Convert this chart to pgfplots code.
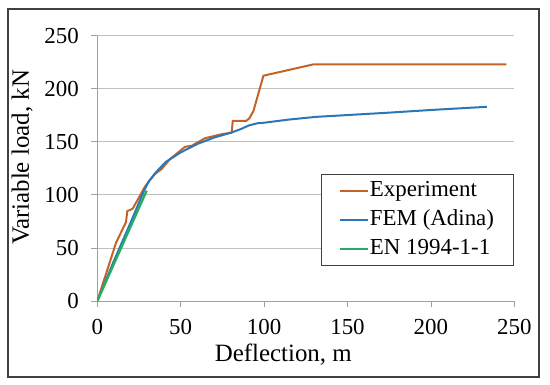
\documentclass[border=0pt]{standalone}
\usepackage{fontspec}
\setmainfont{Liberation Serif}
\usepackage{pgfplots}
\pgfplotsset{compat=1.18}
\definecolor{cExp}{RGB}{196,98,40}
\definecolor{cFem}{RGB}{42,118,184}
\definecolor{cEn}{RGB}{40,172,100}
\definecolor{cGrid}{RGB}{192,192,192}
\definecolor{cAxis}{RGB}{160,160,160}
\definecolor{cFrame}{RGB}{64,64,64}
\begin{document}
\begin{tikzpicture}
\begin{axis}[
  at={(0,0)}, anchor=south west,
  scale only axis, width=417bp, height=265.3bp,
  xmin=0, xmax=250, ymin=0, ymax=250,
  xtick={0,50,...,250}, ytick={0,50,...,250},
  axis x line*=bottom, axis y line*=left,
  axis line style={draw=cAxis, line width=0.8bp, -},
  ymajorgrids, grid style={draw=cGrid, line width=0.8bp},
  tick align=outside, major tick length=6bp,
  tick style={draw=cAxis, line width=0.8bp},
  /pgf/number format/assume math mode=true,
  ticklabel style={font=\fontsize{23}{27}\selectfont},
  xticklabel style={yshift=-9bp},
  yticklabel style={xshift=-9bp},
  xlabel={Deflection, m}, ylabel={Variable load, kN},
  xlabel style={font=\fontsize{25}{30}\selectfont, at={(axis description cs:0.446,0)}, anchor=base, yshift=-60.7bp},
  ylabel style={font=\fontsize{25}{30}\selectfont, at={(axis description cs:-0.18,0.541)}, anchor=center, rotate=0},
  legend style={at={(rel axis cs:0.998,0.479)}, anchor=north east, draw=cFrame, line width=0.8bp,
    font=\fontsize{23}{27}\selectfont, inner xsep=18bp, inner ysep=2bp, row sep=0bp,
    nodes={inner xsep=1bp, inner ysep=3bp, text height=17bp, text depth=6bp},
    /tikz/every even column/.append style={column sep=0bp}},
  legend cell align=left,
  legend image code/.code={\draw[#1, line width=2bp] (0bp,0bp) -- (28bp,0bp);},
]
\addplot[cExp, line width=2bp] coordinates {
(0,0) (11.2,54.7) (17.2,74.4) (18,84.7) (21.2,86.9) (28.6,107.8) (31.6,114)
(34.6,119.7) (38.6,124.4) (43.6,133.75) (52.6,145.3) (56.6,146.25) (64.6,153.4)
(74.6,157.2) (80.6,158.75) (81.2,169.7) (89.2,169.7) (91.2,172.2) (93.6,179)
(99.6,212.3) (129.6,223) (245.2,223)};
\addlegendentry{Experiment}
\addplot[cFem, line width=2bp] coordinates {
(0,0) (10,38) (20,74) (28,104) (31,113) (35,121) (41,131) (50,140) (60,148)
(70,154) (80,158.5) (86,162) (91,165.5) (96,167.5) (100,168) (115,171)
(131,173.5) (175,177.5) (200,180) (233.6,183)};
\addlegendentry{FEM (Adina)}
\addplot[cEn, line width=2.4bp] coordinates {(0,0) (29.6,104)};
\addlegendentry{EN 1994-1-1}
\end{axis}
\draw[line width=2bp, draw=cFrame] (-89.3bp,-76bp) rectangle (441.7bp,292bp);
\pgfresetboundingbox
\path (-97.3bp,-84bp) rectangle (452.7bp,301bp);
\end{tikzpicture}
\end{document}
